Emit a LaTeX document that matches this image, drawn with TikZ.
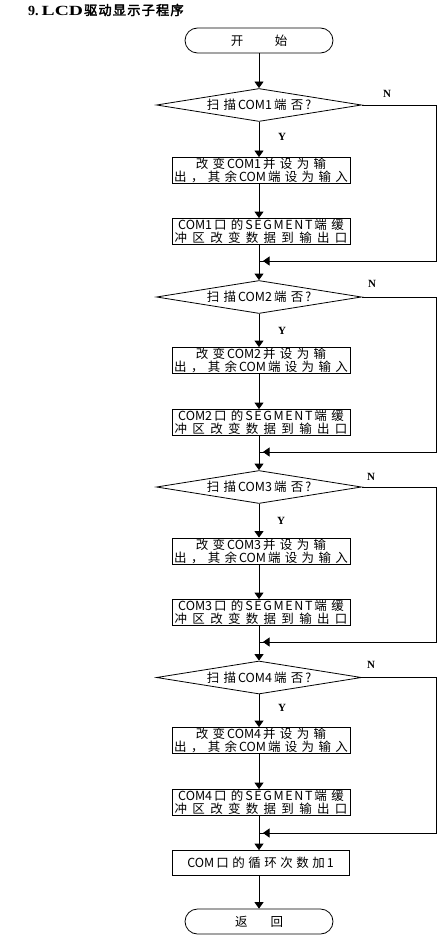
\documentclass[tikz,border=0pt]{standalone}
\usepackage{fontspec}
\setmainfont{Noto Sans CJK SC}
\newfontfamily\latserif{Liberation Serif}
\newfontfamily\cjkbold[FakeBold=2.5]{Noto Sans CJK SC}
\usetikzlibrary{arrows.meta,shapes.geometric}
\newskip\cjkgap
\newskip\cjklat
\cjkgap=4.3pt
\cjklat=2pt
\XeTeXinterchartokenstate=1
\count255="4E00
\loop
\XeTeXcharclass\count255=9
\advance\count255 by 1
\ifnum\count255<"A000
\repeat
\XeTeXcharclass`，=9
\XeTeXcharclass`？=9
\XeTeXinterchartoks 9 9 = {\hskip\cjkgap\relax}
\XeTeXinterchartoks 9 0 = {\hskip\cjklat\relax}
\XeTeXinterchartoks 0 9 = {\hskip\cjklat\relax}
\newcommand\seg{S\kern1.6pt E\kern1.6pt G\kern1.6pt M\kern1.6pt E\kern1.6pt N\kern1.6pt T\hskip\cjklat}
\tikzset{
 base/.style={line width=0.8pt},
 arr/.style={base,-{Triangle[length=6.5pt,width=9pt]}},
 boxnode/.style={draw,line width=0.8pt,rectangle,minimum width=178pt,minimum height=26pt,inner sep=0pt,align=center,font=\fontsize{12.5}{12.8}\selectfont},
 dianode/.style={draw,line width=0.8pt,diamond,aspect=6.2,minimum width=205pt,minimum height=33pt,inner sep=0pt,font=\fontsize{12.5}{13}\selectfont},
 termnode/.style={draw,line width=0.8pt,rectangle,rounded corners=12.5pt,minimum width=148pt,minimum height=25pt,inner sep=0pt,font=\fontsize{12.5}{13}\selectfont},
 lbl/.style={font=\latserif\bfseries\fontsize{11}{12}\selectfont,inner sep=0pt},
}
\begin{document}
\begin{tikzpicture}[x=1pt,y=-1pt]
\useasboundingbox (0,0) rectangle (444,936);
\node[anchor=west,inner sep=0pt] (title) at (28,10) {{\latserif\bfseries\fontsize{14}{15}\selectfont 9.\kern3pt\scalebox{1.4}[1]{LCD}}\kern1pt{\cjkbold\fontsize{13.2}{14}\selectfont\cjkgap=1.2pt 驱动显示子程序}};
\node[termnode] (start) at (259,40.5) {开\hspace{31.5pt}始};
% section 1
\node[dianode] (d1) at (259,105) {扫描COM1端否?};
\node[boxnode] (a1) at (261,170.5) {改变COM1并设为输\\出，其余COM端设为输入};
\node[boxnode] (b1) at (261,231.5) {COM1口的\seg 端缓\\{\cjkgap=5.3pt 冲区改变数据到输出口}};
\coordinate (j1) at (259,261);
\coordinate (r1) at (436,261);
\node[lbl] (n1) at (387,94) {N};
\node[lbl] (y1) at (282,137) {Y};
% section 2
\node[dianode] (d2) at (259,297) {扫描COM2端否?};
\node[boxnode] (a2) at (261,360.5) {改变COM2并设为输\\出，其余COM端设为输入};
\node[boxnode] (b2) at (261,422.5) {COM2口的\seg 端缓\\{\cjkgap=5.3pt 冲区改变数据到输出口}};
\coordinate (j2) at (259,452);
\coordinate (r2) at (436,452);
\node[lbl] (n2) at (372,284) {N};
\node[lbl] (y2) at (282,331) {Y};
% section 3
\node[dianode] (d3) at (259,487) {扫描COM3端否?};
\node[boxnode] (a3) at (261,551) {改变COM3并设为输\\出，其余COM端设为输入};
\node[boxnode] (b3) at (261,612.5) {COM3口的\seg 端缓\\{\cjkgap=5.3pt 冲区改变数据到输出口}};
\coordinate (j3) at (259,642);
\coordinate (r3) at (436,642);
\node[lbl] (n3) at (371,477) {N};
\node[lbl] (y3) at (281,521) {Y};
% section 4
\node[dianode] (d4) at (259,677.5) {扫描COM4端否?};
\node[boxnode] (a4) at (261,740.5) {改变COM4并设为输\\出，其余COM端设为输入};
\node[boxnode] (b4) at (261,802.5) {COM4口的\seg 端缓\\{\cjkgap=5.3pt 冲区改变数据到输出口}};
\coordinate (j4) at (259,833);
\coordinate (r4) at (436,833);
\node[lbl] (n4) at (371,665) {N};
\node[lbl] (y4) at (282,708) {Y};
% final
\node[boxnode,minimum width=177pt,minimum height=25pt] (f) at (260.5,863) {{\cjkgap=3.5pt COM口的循环次数加1}};
\node[termnode] (end) at (259,921.5) {返\hspace{23pt}回};
% connectors
\draw[arr] (start) -- (d1);
\foreach \k/\n in {1/2,2/3,3/4}{
  \draw[arr] (d\k.south) -- (d\k.south |- a\k.north);
  \draw[arr] (d\k.south |- a\k.south) -- (d\k.south |- b\k.north);
  \draw[base] (d\k.south |- b\k.south) -- (j\k);
  \draw[base] (d\k.east) -| (r\k) -- (j\k);
  \draw[arr] (r\k) -- ([xshift=4pt]j\k);
  \draw[arr] (j\k) -- (d\n);
}
\draw[arr] (d4.south) -- (d4.south |- a4.north);
\draw[arr] (d4.south |- a4.south) -- (d4.south |- b4.north);
\draw[base] (d4.south |- b4.south) -- (j4);
\draw[base] (d4.east) -| (r4) -- (j4);
\draw[arr] (r4) -- ([xshift=4pt]j4);
\draw[arr] (j4) -- (j4 |- f.north);
\draw[arr] (j4 |- f.south) -- (end);
\end{tikzpicture}
\end{document}
